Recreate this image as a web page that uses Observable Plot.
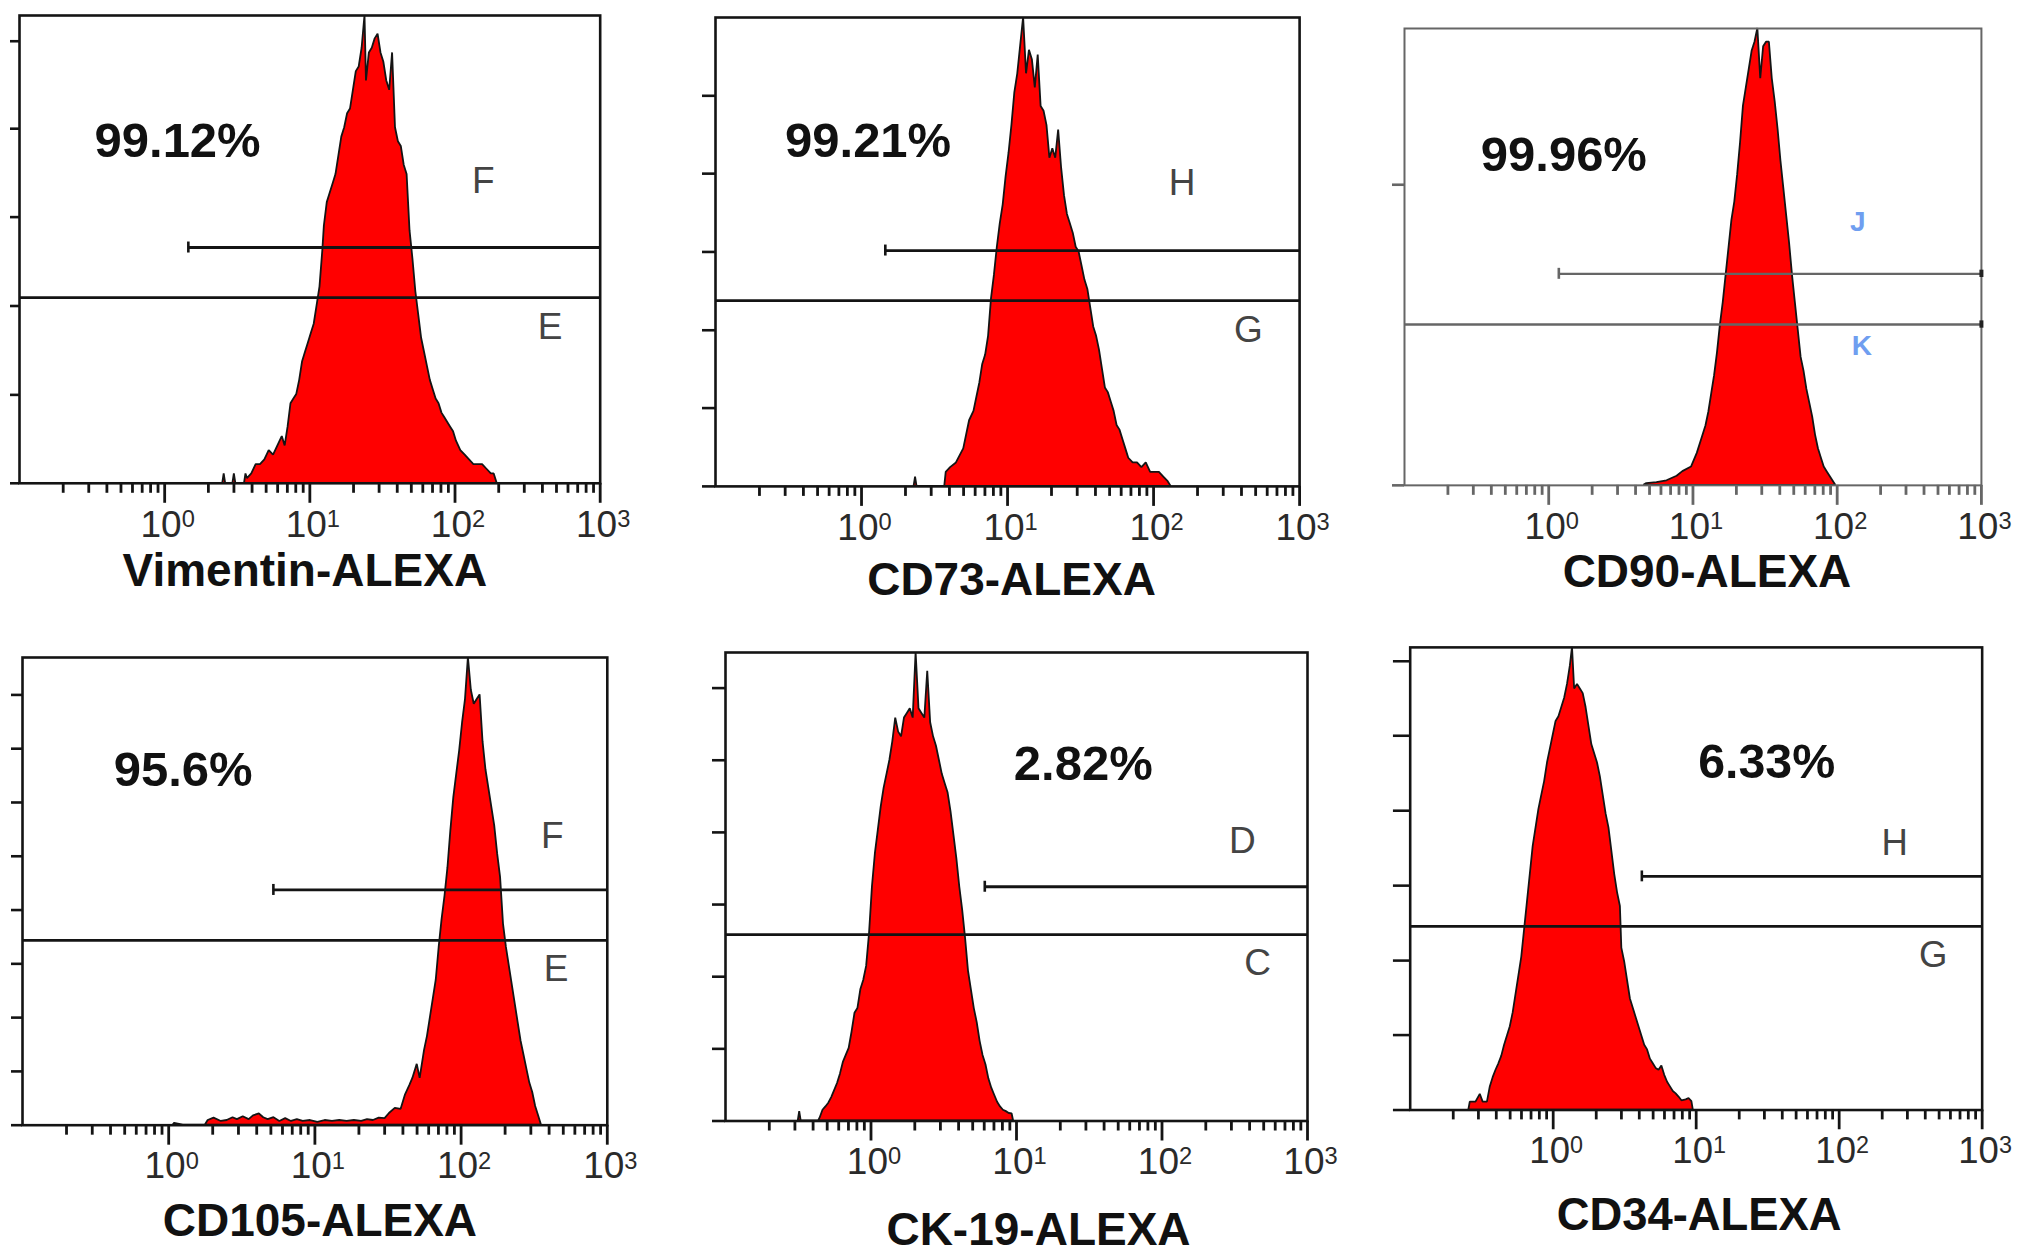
<!DOCTYPE html>
<html><head><meta charset="utf-8">
<script src="https://cdn.jsdelivr.net/npm/d3@7"></script>
<script src="https://cdn.jsdelivr.net/npm/@observablehq/plot@0.6"></script>
<style>
html,body{margin:0;padding:0;background:#fff;}
#root{position:relative;width:2031px;height:1259px;overflow:hidden;background:#fff;}
.panel{position:absolute;}
.panel svg{overflow:visible;}
</style></head><body><div id="root"></div>
<script>
// ---------- data ----------
const titles = ["Vimentin-ALEXA", "CD73-ALEXA", "CD90-ALEXA", "CD105-ALEXA", "CK-19-ALEXA", "CD34-ALEXA"];
const percents = ["99.12%", "99.21%", "99.96%", "95.6%", "2.82%", "6.33%"];
const upperGateNames = ["F", "H", "J", "F", "D", "H"];
const lowerGateNames = ["E", "G", "K", "E", "C", "G"];
const upperGateLevel = [50.4, 50.3, 46.3, 50.3, 50.0, 50.5];
const upperGateStartLog = [0.163, 0.163, 0.07, 0.716, 0.782, 0.62];
const lowerGateLevel = [39.7, 39.6, 35.2, 39.5, 39.8, 39.7];
const xTickValues = [1, 10, 100, 1000];
const xMinorTicks = [0.2,0.3,0.4,0.5,0.6,0.7,0.8,0.9,2,3,4,5,6,7,8,9,20,30,40,50,60,70,80,90,200,300,400,500,600,700,800,900];
const yTickValues = [
  [18.9, 37.9, 56.9, 75.8, 94.5],
  [16.7, 33.3, 50, 66.7, 83.3],
  [65.8],
  [11.5, 23, 34.5, 46, 57.5, 69, 80.5, 92],
  [15.4, 30.8, 46.2, 61.6, 77, 92.4],
  [16.2, 32.3, 48.5, 64.7, 80.9, 97]
];
// histograms: [log10(channel), count as % of full scale]
const vimentin = [[0.40,0],[0.41,2],[0.42,0],[0.47,0],[0.48,2],[0.49,0],[0.55,0],[0.56,2],[0.57,1],[0.60,2],[0.63,4],[0.66,4],[0.69,5],[0.72,7],[0.75,6],[0.78,8],[0.81,10],[0.83,8],[0.85,12],[0.87,17],[0.89,18],[0.91,19],[0.93,22],[0.95,26],[0.97,28],[0.99,30],[1.01,32],[1.03,34],[1.05,38],[1.07,42],[1.09,50],[1.10,55],[1.12,60],[1.14,62],[1.16,64],[1.18,66],[1.20,70],[1.22,74],[1.24,76],[1.26,79],[1.28,80],[1.30,84],[1.32,88],[1.34,89],[1.36,93],[1.38,100],[1.39,86],[1.41,92],[1.43,93],[1.45,95],[1.47,96],[1.49,92],[1.51,90],[1.53,86],[1.55,84],[1.57,92],[1.59,76],[1.61,73],[1.63,72],[1.65,68],[1.67,66],[1.69,54],[1.71,48],[1.73,41],[1.75,36],[1.77,31],[1.79,28],[1.81,25],[1.83,22],[1.85,20],[1.87,18],[1.89,17],[1.91,15],[1.93,14],[1.95,13],[1.97,12],[1.99,11],[2.01,9],[2.04,7],[2.07,6],[2.10,5],[2.13,4],[2.16,4],[2.19,4],[2.22,3],[2.25,2],[2.27,2],[2.29,0]];
const cd73 = [[0.36,0],[0.37,2],[0.38,0],[0.57,0],[0.58,3],[0.61,4],[0.65,5],[0.70,8],[0.74,14],[0.77,16],[0.79,19],[0.81,22],[0.83,26],[0.85,28],[0.87,32],[0.89,40],[0.91,45],[0.93,51],[0.95,56],[0.97,60],[0.99,66],[1.01,71],[1.03,77],[1.05,84],[1.07,88],[1.09,94],[1.11,100],[1.13,88],[1.15,93],[1.17,91],[1.19,85],[1.21,92],[1.23,81],[1.25,80],[1.27,77],[1.29,70],[1.31,72],[1.33,70],[1.35,76],[1.37,68],[1.39,62],[1.41,58],[1.43,56],[1.45,54],[1.47,51],[1.49,50],[1.51,47],[1.53,44],[1.55,42],[1.57,38],[1.59,34],[1.61,32],[1.63,29],[1.65,25],[1.67,21],[1.69,20],[1.71,18],[1.73,16],[1.75,13],[1.77,12],[1.79,10],[1.81,8],[1.83,6],[1.86,5],[1.89,5],[1.92,4],[1.95,5],[1.98,3],[2.01,3],[2.04,3],[2.07,2],[2.10,1],[2.12,0]];
const cd90 = [[0.66,0],[0.68,0.4],[0.75,0.6],[0.82,1],[0.89,2],[0.93,3],[0.99,4],[1.03,7],[1.06,10],[1.09,13],[1.11,16],[1.13,20],[1.15,24],[1.17,29],[1.19,35],[1.21,40],[1.23,46],[1.25,52],[1.27,58],[1.29,62],[1.31,68],[1.33,75],[1.35,83],[1.37,87],[1.39,91],[1.41,95],[1.43,97],[1.45,100],[1.47,89],[1.49,96],[1.51,97],[1.53,97],[1.55,89],[1.57,84],[1.59,78],[1.61,71],[1.63,65],[1.65,59],[1.67,53],[1.69,46],[1.71,40],[1.73,34],[1.75,28],[1.77,25],[1.79,21],[1.81,18],[1.83,15],[1.85,11],[1.87,8],[1.89,6],[1.91,4],[1.93,3],[1.95,2],[1.97,1],[1.99,0]];
const cd105 = [[0.03,0],[0.04,0.4],[0.10,0],[0.25,0],[0.27,1],[0.31,1.5],[0.36,0.8],[0.40,1],[0.44,1.6],[0.47,1.2],[0.51,1.8],[0.55,1.2],[0.58,2],[0.62,2.4],[0.65,1.6],[0.68,1.2],[0.72,1.6],[0.76,0.8],[0.80,1.4],[0.84,0.8],[0.88,1.2],[0.92,0.8],[0.97,1],[1.02,0.6],[1.07,1],[1.12,0.8],[1.17,1],[1.22,0.8],[1.27,1],[1.32,0.8],[1.36,1.2],[1.40,1],[1.44,1.5],[1.48,1.4],[1.51,2.5],[1.55,3.6],[1.59,3.4],[1.62,6.5],[1.65,8.5],[1.67,10],[1.70,13],[1.72,10],[1.75,16],[1.77,19],[1.79,23],[1.81,27],[1.83,31],[1.85,38],[1.87,44],[1.89,49],[1.91,55],[1.93,63],[1.95,70],[1.97,75],[1.99,80],[2.01,86],[2.03,91],[2.05,100],[2.07,93],[2.09,90],[2.11,91],[2.13,92],[2.15,82],[2.17,76],[2.19,72],[2.21,68],[2.23,64],[2.25,58],[2.27,53],[2.29,43],[2.31,38],[2.33,34],[2.35,30],[2.37,26],[2.39,22],[2.41,18],[2.43,15],[2.45,12],[2.47,9],[2.49,7],[2.51,4],[2.53,2],[2.55,0]];
const ck19 = [[-0.50,0],[-0.49,2],[-0.48,0],[-0.36,0],[-0.35,0.6],[-0.33,2.3],[-0.31,3],[-0.29,3.8],[-0.27,5],[-0.25,6.5],[-0.23,8],[-0.21,10],[-0.19,12.5],[-0.17,14],[-0.15,15.5],[-0.13,19],[-0.11,23],[-0.09,24],[-0.07,28],[-0.05,30],[-0.03,33],[-0.01,40],[0.01,50],[0.03,57],[0.05,62],[0.07,67],[0.09,71],[0.11,74],[0.13,77],[0.15,81],[0.17,86],[0.19,83],[0.21,82],[0.23,86],[0.25,87],[0.27,88],[0.29,86],[0.31,100],[0.33,88],[0.35,87],[0.37,86],[0.39,96],[0.41,85],[0.43,82],[0.45,80],[0.47,77],[0.49,74],[0.51,72],[0.53,70],[0.55,66],[0.57,61],[0.59,56],[0.61,50],[0.63,45],[0.65,39],[0.67,32],[0.69,28],[0.71,24],[0.73,21],[0.75,17],[0.77,14],[0.79,12],[0.81,9],[0.83,7],[0.85,5.5],[0.87,4],[0.89,3],[0.91,2.3],[0.93,2],[0.95,1.6],[0.97,1.5],[0.98,0]];
const cd34 = [[-0.59,0],[-0.58,1.7],[-0.54,1.7],[-0.51,3.4],[-0.49,1.7],[-0.46,1.7],[-0.44,5],[-0.42,7],[-0.40,8.6],[-0.38,10],[-0.36,11.6],[-0.34,14],[-0.32,16],[-0.30,18],[-0.28,21],[-0.26,25],[-0.24,29],[-0.22,33],[-0.20,39],[-0.18,45],[-0.16,51],[-0.14,57],[-0.12,61],[-0.10,65],[-0.08,68],[-0.06,71],[-0.04,75],[-0.02,78],[0.00,81],[0.02,84],[0.04,85],[0.06,87],[0.08,89],[0.10,92],[0.12,96],[0.135,100],[0.15,91],[0.17,92],[0.19,91],[0.21,90],[0.23,87],[0.25,83],[0.27,79],[0.29,77],[0.31,75],[0.33,72],[0.35,68],[0.37,64],[0.39,61],[0.41,56],[0.43,51],[0.45,47],[0.47,44],[0.48,35],[0.50,32],[0.52,28],[0.54,24],[0.56,22],[0.58,20],[0.60,18],[0.62,16],[0.64,14],[0.66,13],[0.68,11],[0.70,10],[0.72,9],[0.74,8.6],[0.76,9.5],[0.78,7.5],[0.80,6],[0.82,5],[0.84,4],[0.86,3.5],[0.88,2.8],[0.90,2],[0.93,2.2],[0.95,2.5],[0.97,1.8],[0.98,0]];
const histograms = [vimentin, cd73, cd90, cd105, ck19, cd34];

// ---------- layout (pixel frames, annotation anchors) ----------
const layout = [
  {frame: [18.8, 15.1, 599.5, 482.9], yTick: 9,  pct: [0.089, 73],   up: [2.194, 64.6], lo: [2.655, 33.4], title: [-5, 88]},
  {frame: [715.2, 16.7, 1299.3, 485.6], yTick: 13, pct: [0.045, 73.5], up: [2.196, 64.6], lo: [2.65, 33.4], title: [4, 94]},
  {frame: [1404.1, 27.8, 1981.2, 484.8], yTick: 12, pct: [0.105, 72.2], up: [2.142, 57.7], lo: [2.171, 30.4], title: [14, 87], faint: true},
  {frame: [22.3, 657.4, 607.1, 1125.1], yTick: 11, pct: [0.099, 75.9], up: [2.624, 61.7], lo: [2.649, 33.3], title: [5, 96]},
  {frame: [724.7, 652.2, 1306.7, 1120.7], yTick: 13, pct: [1.459, 76.2], up: [2.553, 59.8], lo: [2.657, 33.6], title: [22, 109]},
  {frame: [1410, 647, 1989.7, 1115.9], yTick: 17, pct: [1.493, 75.1], up: [2.389, 57.6], lo: [2.657, 33.4], title: [3, 107]}
];

const FONT = "'Liberation Sans', Arial, Helvetica, sans-serif";
const root = document.getElementById("root");

function drawPanel(i) {
  const L = layout[i];
  const [fl, ft, fr, fb] = L.frame;
  const W = fr - fl, H = fb - ft;
  const m = {l: 22, r: 50, t: 8, b: 130};
  const rows = histograms[i].map(([e, c]) => ({x: 10 ** e, y: c}));
  const ink = L.faint ? "#666" : "#141414";
  const gateW = L.faint ? 2.4 : 2.8;
  const cap = 5.5 / H * 100;
  const hiStart = 10 ** upperGateStartLog[i];
  const hi = upperGateLevel[i], lo = lowerGateLevel[i];
  const letterColor = L.faint ? "#6f9ef0" : "#444";
  const letterSize = L.faint ? 28 : 37;
  const letterWeight = L.faint ? "bold" : "normal";

  const marks = [
    Plot.areaY(rows, {x: "x", y: "y", fill: "#ff0000", stroke: "#141414", strokeWidth: 1.8, strokeLinejoin: "miter", curve: "linear"}),
    Plot.ruleY([lo], {stroke: ink, strokeWidth: gateW}),
    Plot.ruleY([hi], {x1: () => hiStart, x2: () => 1000, stroke: ink, strokeWidth: gateW}),
    Plot.ruleX([hiStart], {y1: () => hi - cap, y2: () => hi + cap, stroke: ink, strokeWidth: 2.6}),
    Plot.frame({stroke: ink, strokeWidth: L.faint ? 2 : 2.6}),
    Plot.axisX({ticks: xMinorTicks, tickSize: 10, tickFormat: () => "", label: null, stroke: ink, strokeWidth: 2.8}),
    Plot.axisX({ticks: xTickValues, tickSize: 20, tickPadding: 7, tickFormat: d => "10^" + Math.round(Math.log10(d)), label: null, stroke: ink, strokeWidth: 2.8}),
    Plot.axisY({ticks: [0, ...yTickValues[i]], tickSize: L.yTick, tickFormat: () => "", label: null, stroke: ink, strokeWidth: 2.6}),
    Plot.text([percents[i]], {x: () => 10 ** L.pct[0], y: () => L.pct[1], text: d => d, fontSize: 49, fontWeight: "bold", fill: "#111", lineAnchor: "middle", fontFamily: FONT}),
    Plot.text([upperGateNames[i]], {x: () => 10 ** L.up[0], y: () => L.up[1], text: d => d, fontSize: letterSize, fontWeight: letterWeight, fill: letterColor, lineAnchor: "middle", fontFamily: FONT}),
    Plot.text([lowerGateNames[i]], {x: () => 10 ** L.lo[0], y: () => L.lo[1], text: d => d, fontSize: letterSize, fontWeight: letterWeight, fill: letterColor, lineAnchor: "middle", fontFamily: FONT}),
    Plot.text([titles[i]], {frameAnchor: "bottom", dx: L.title[0], dy: L.title[1], text: d => d, fontSize: 46, fontWeight: "bold", fill: "#111", lineAnchor: "middle", fontFamily: FONT})
  ];
  if (L.faint) {
    marks.push(Plot.ruleX([1000], {y1: () => hi - 0.8, y2: () => hi + 0.8, stroke: "#222", strokeWidth: 4}));
    marks.push(Plot.ruleX([1000], {y1: () => lo - 0.8, y2: () => lo + 0.8, stroke: "#222", strokeWidth: 4}));
  }

  const svg = Plot.plot({
    width: W + m.l + m.r,
    height: H + m.t + m.b,
    marginLeft: m.l, marginRight: m.r, marginTop: m.t, marginBottom: m.b,
    x: {type: "log", domain: [0.1, 1000]},
    y: {domain: [0, 100]},
    style: {fontFamily: FONT, fontSize: "37px", color: "#141414", background: "transparent", overflow: "visible"},
    marks
  });

  svg.querySelectorAll('g[aria-label="x-axis tick label"] text').forEach(t => {
    const s = t.textContent;
    if (!s.includes("^")) return;
    const [base, ex] = s.split("^");
    t.textContent = base;
    t.setAttribute("fill", "#2a2a2a");
    t.setAttribute("font-size", "37");
    t.setAttribute("dx", "3");
    const ts = document.createElementNS("http://www.w3.org/2000/svg", "tspan");
    ts.setAttribute("dy", "-0.42em");
    ts.setAttribute("font-size", "0.64em");
    ts.textContent = ex;
    t.appendChild(ts);
  });

  const div = document.createElement("div");
  div.className = "panel";
  div.style.left = (fl - m.l) + "px";
  div.style.top = (ft - m.t) + "px";
  div.appendChild(svg);
  root.appendChild(div);
}

for (let i = 0; i < 6; i++) drawPanel(i);
</script>
</body></html>
